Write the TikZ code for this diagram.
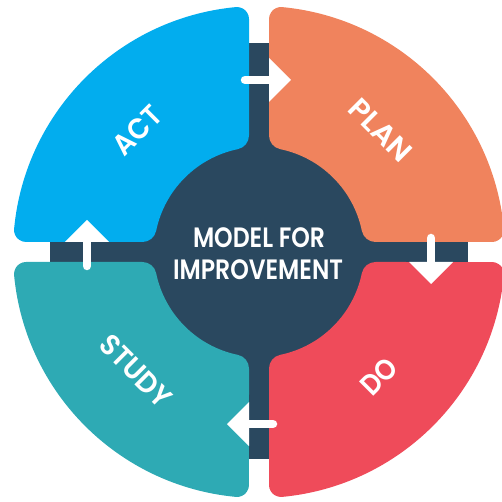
\documentclass[tikz,border=0pt]{standalone}
\usepackage{graphicx}
\usepackage{fontspec}
\newfontfamily\cyclefont{Poppins}[UprightFont={* SemiBold}]

\definecolor{actblue}{RGB}{2,173,238}
\definecolor{planorange}{RGB}{240,131,93}
\definecolor{doRed}{RGB}{239,75,90}
\definecolor{studyteal}{RGB}{46,170,180}
\definecolor{hubnavy}{RGB}{42,72,95}

% set a word to a given width, keeping its height
\newcommand\fitto[2]{\resizebox{#1pt}{\height}{#2}}

% one ring segment in the first quadrant, turned by #1 and filled with #2
\newcommand\ringsegment[2]{%
  \begin{scope}[rotate=#1]
    \fill[#2] (\ccl,\g) -- (\cax,\g)
      arc[start angle=-90, end angle=\ta, radius=\fout]
      arc[start angle=\ta, end angle=\tb, radius=\Ro]
      arc[start angle=\tb, end angle=180, radius=\fout]
      -- (\g,\ccl)
      arc[start angle=180, end angle=180+\tc, radius=\fin]
      arc[start angle=\tc, end angle=\td, radius=\ri]
      arc[start angle=180+\td, end angle=270, radius=\fin]
      -- cycle;
  \end{scope}}

% white arrow crossing a gap, drawn for the top gap and turned by #1
\newcommand\cyclearrow[2]{%
  \begin{scope}[rotate=#1]
    \coordinate (#2-tail) at (-14,172);
    \coordinate (#2-base) at (11,172);
    \coordinate (#2-tip) at (32,172);
    \draw[arrowbar] (#2-tail) -- (#2-base);
    \fill[white] (10,150) -- (#2-tip) -- (10,194) -- cycle;
  \end{scope}}

\begin{document}
\begin{tikzpicture}[x=1pt,y=1pt,
  arrowbar/.style={white, line width=8.5pt, line cap=round},
  lbl/.style={text=white, inner sep=0pt, font=\cyclefont\fontsize{29}{29}\selectfont},
  hubtext/.style={text=white, inner sep=0pt, font=\cyclefont\fontsize{28}{28}\selectfont}]
\useasboundingbox (-259,-250) rectangle (243,252);

% ring geometry: half gap, outer and inner radius, corner radii
\pgfmathsetmacro\g{10}
\pgfmathsetmacro\Ro{246}
\pgfmathsetmacro\ri{105}
\pgfmathsetmacro\fout{12}
\pgfmathsetmacro\fin{14}
\pgfmathsetmacro\cax{10*sqrt(((\Ro-\fout)/10)^2-((\g+\fout)/10)^2)}
\pgfmathsetmacro\ta{atan2(\g+\fout,\cax)}
\pgfmathsetmacro\tb{90-\ta}
\pgfmathsetmacro\ccl{10*sqrt(((\ri+\fin)/10)^2-((\g+\fin)/10)^2)}
\pgfmathsetmacro\tc{atan2(\ccl,\g+\fin)}
\pgfmathsetmacro\td{90-\tc}

% navy hub with the cross behind the gaps
\fill[hubnavy] (0,0) circle[radius=120];
\fill[hubnavy] (-15,-207) rectangle (15,209);
\fill[hubnavy] (-209,-15) rectangle (209,15);

\ringsegment{0}{planorange}
\ringsegment{90}{actblue}
\ringsegment{180}{studyteal}
\ringsegment{270}{doRed}

\cyclearrow{0}{a1}
\cyclearrow{-90}{a2}
\cyclearrow{-180}{a3}
\cyclearrow{-270}{a4}

\node[lbl, rotate=-45] (plan) at (45:172) {\fitto{76}{PLAN}};
\node[lbl, rotate=45] (act) at (135:172) {\fitto{56}{ACT}};
\node[lbl, rotate=-45] (study) at (224:171) {\fitto{89}{STUDY}};
\node[lbl, rotate=45] (do) at (314:173) {\fitto{39}{DO}};

\node[hubtext] (model) at (0,14) {\fitto{132}{MODEL FOR}};
\node[hubtext] (improvement) at (-1,-18) {\fitto{170}{IMPROVEMENT}};
\end{tikzpicture}
\end{document}
